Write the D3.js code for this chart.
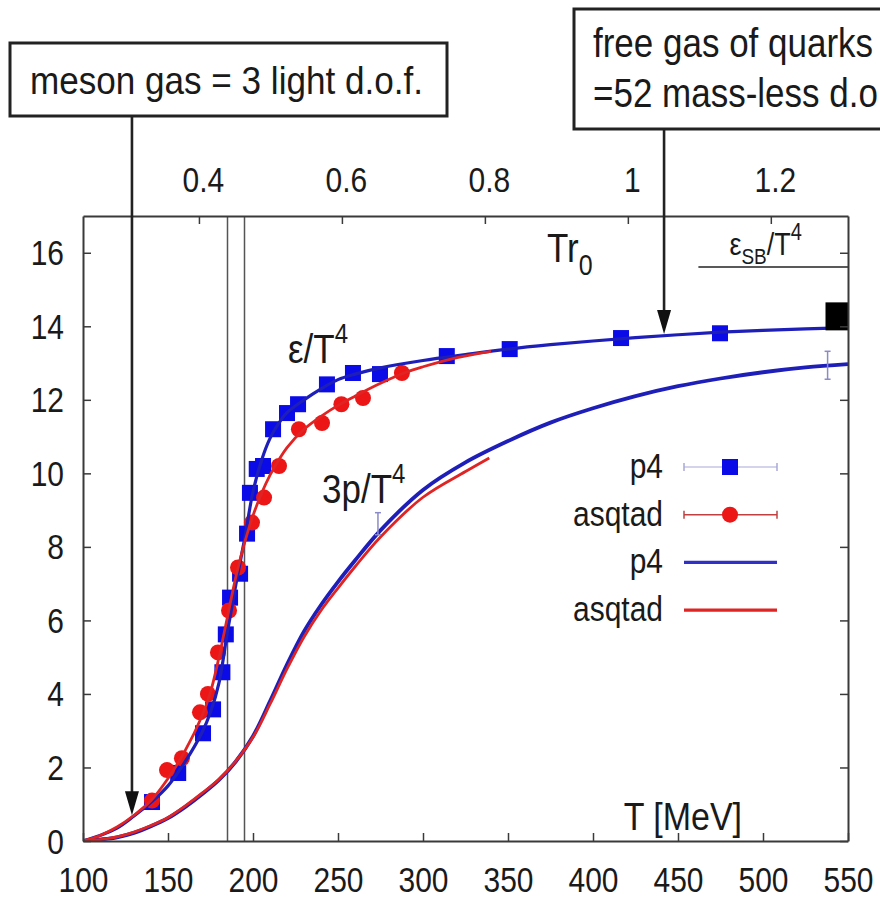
<!DOCTYPE html>
<html>
<head>
<meta charset="utf-8">
<script src="https://cdn.jsdelivr.net/npm/d3@7"></script>
<style>
  body { margin: 0; background: #fff; }
  svg { display: block; }
  text { font-family: "Liberation Sans", Arial, Helvetica, sans-serif; fill: #1a1a1a; }
</style>
</head>
<body>
<svg id="chart" width="880" height="901"></svg>
<script>
// ---- axes ----
const tDomain = [100, 550];          // T [MeV]
const yDomain = [0, 17];
const r0 = 1 / 420.5;                // Tr0 = 1 at T = 420.5 MeV
const bottomTicks = [100, 150, 200, 250, 300, 350, 400, 450, 500, 550];
const topTicks = [0.4, 0.6, 0.8, 1, 1.2];
const yTicks = [0, 2, 4, 6, 8, 10, 12, 14, 16];

// ---- lattice data points: energy density eps/T^4 ----
const p4PointT = [140.6, 156, 170.6, 176.5, 182, 184, 186.5, 192.4, 196.5, 198.2, 202.2, 205.9, 211.8, 220, 226.5, 243.5, 258.8, 274.7, 314, 351, 416.5, 474.7];
const p4PointV = [1.06, 1.85, 2.93, 3.58, 4.59, 5.62, 6.62, 7.27, 8.36, 9.47, 10.12, 10.2, 11.2, 11.64, 11.88, 12.42, 12.73, 12.70, 13.19, 13.38, 13.68, 13.81];
const asqPointT = [140.6, 149.4, 158.2, 168.8, 173.5, 179.4, 185.9, 191.2, 199.4, 206.5, 215.3, 227, 240.6, 252, 264.7, 287.6];
const asqPointV = [1.1, 1.93, 2.25, 3.5, 4.0, 5.13, 6.27, 7.44, 8.66, 9.34, 10.2, 11.2, 11.37, 11.88, 12.05, 12.73];

// ---- interpolating curves ----
const p4EpsT = [100, 110, 120, 130, 140, 150, 160, 170, 175, 180, 185, 190, 195, 200, 205, 210, 215, 220, 230, 240, 250, 260, 275, 300, 325, 350, 375, 400, 425, 450, 475, 500, 525, 550];
const p4EpsV = [0, 0.15, 0.35, 0.68, 1.05, 1.5, 2.15, 2.95, 3.5, 4.3, 5.7, 7.0, 8.2, 9.5, 10.35, 10.95, 11.35, 11.65, 12.0, 12.3, 12.55, 12.7, 12.87, 13.07, 13.23, 13.38, 13.5, 13.6, 13.69, 13.77, 13.84, 13.89, 13.93, 13.96];
const asqEpsT = [100, 110, 120, 130, 140, 150, 160, 170, 175, 180, 185, 190, 195, 200, 205, 210, 215, 220, 230, 240, 250, 260, 275, 290, 300, 320, 340];
const asqEpsV = [0, 0.15, 0.38, 0.7, 1.1, 1.7, 2.45, 3.4, 4.05, 5.0, 6.1, 7.2, 8.1, 8.85, 9.45, 9.95, 10.35, 10.7, 11.2, 11.55, 11.85, 12.1, 12.45, 12.75, 12.9, 13.15, 13.32];
const p4PresT = [100, 110, 120, 130, 140, 150, 160, 170, 180, 190, 200, 210, 220, 230, 240, 250, 260, 275, 300, 325, 350, 375, 400, 425, 450, 475, 500, 525, 550];
const p4PresV = [0, 0.04, 0.1, 0.22, 0.4, 0.62, 0.92, 1.27, 1.66, 2.17, 2.85, 3.8, 4.8, 5.7, 6.42, 7.05, 7.63, 8.45, 9.55, 10.3, 10.88, 11.38, 11.77, 12.1, 12.37, 12.58, 12.75, 12.88, 12.97];
const asqPresT = [100, 110, 120, 130, 140, 150, 160, 170, 180, 190, 200, 210, 220, 230, 240, 250, 260, 275, 300, 325, 339];
const asqPresV = [0, 0.04, 0.11, 0.24, 0.42, 0.64, 0.95, 1.3, 1.68, 2.18, 2.82, 3.72, 4.68, 5.55, 6.27, 6.88, 7.46, 8.27, 9.35, 10.05, 10.42];

// ---- reference marks ----
const tcLines = [185, 195];                 // transition band
const sbLimit = 15.61, sbFrom = 462;        // Stefan-Boltzmann limit of eps/T^4
const blackMark = { T: 545, v: 14.27 };
const errBars = [ { T: 273.5, v: 8.63, e: 0.3 }, { T: 538, v: 12.94, e: 0.38 } ];
const legendLabels = ["p4", "asqtad", "p4", "asqtad"];
const arrowLow = { T: 128.8, v: 0.7 };
const arrowHigh = { T: 441.8, v: 13.79 };

// ---- colours ----
const BLUE_PT = "#0b0be8", RED_PT = "#ec1616";
const BLUE_LN = "#1e1eb8", RED_LN = "#e02424";
const AXIS = "#3a3a3a";
const SY = 1.15;   // tall glyph proportion

const svg = d3.select("#chart");
const M = { left: 83, top: 216, right: 32, bottom: 60 };
const W = 880 - M.left - M.right, H = 901 - M.top - M.bottom;

const x = d3.scaleLinear().domain(tDomain).range([M.left, M.left + W]);
const y = d3.scaleLinear().domain(yDomain).range([M.top + H, M.top]);
const xTop = d3.scaleLinear().domain(tDomain.map(t => t * r0)).range([M.left, M.left + W]);

function label(parent, px, py, size, anchor) {
  return parent.append("text")
    .attr("transform", `translate(${px},${py}) scale(1,${SY})`)
    .attr("font-size", size)
    .attr("text-anchor", anchor || "start");
}

svg.append("defs").append("clipPath").attr("id", "plot")
  .append("rect").attr("x", M.left).attr("y", M.top).attr("width", W).attr("height", H);

// vertical transition lines
svg.append("g").selectAll("line").data(tcLines).join("line")
  .attr("x1", d => x(d)).attr("x2", d => x(d))
  .attr("y1", y(yDomain[0])).attr("y2", y(yDomain[1]))
  .attr("stroke", "#555").attr("stroke-width", 1.5);

// SB limit
svg.append("line")
  .attr("x1", x(sbFrom)).attr("x2", x(tDomain[1]))
  .attr("y1", y(sbLimit)).attr("y2", y(sbLimit))
  .attr("stroke", "#222").attr("stroke-width", 1.5);
{
  const t = label(svg, x(sbFrom) + 31, y(sbLimit) - 12, 27);
  t.append("tspan").text("ε");
  t.append("tspan").attr("font-size", 19).attr("dy", 8).text("SB");
  t.append("tspan").attr("dy", -8).text("/T");
  t.append("tspan").attr("font-size", 20).attr("dy", -13).text("4");
}

const plot = svg.append("g").attr("clip-path", "url(#plot)");
const zip = (a, b) => a.map((t, i) => [t, b[i]]);

// data points: p4 squares, asqtad circles
plot.append("g").selectAll("rect").data(zip(p4PointT, p4PointV)).join("rect")
  .attr("x", d => x(d[0]) - 8).attr("y", d => y(d[1]) - 8)
  .attr("width", 16).attr("height", 16).attr("fill", BLUE_PT);
plot.append("g").selectAll("circle").data(zip(asqPointT, asqPointV)).join("circle")
  .attr("cx", d => x(d[0])).attr("cy", d => y(d[1])).attr("r", 8).attr("fill", RED_PT);

const line = d3.line().x(d => x(d[0])).y(d => y(d[1])).curve(d3.curveCatmullRom.alpha(0.5));
const curves = [
  { T: p4EpsT, V: p4EpsV, c: BLUE_LN, w: 3.2 },
  { T: p4PresT, V: p4PresV, c: BLUE_LN, w: 3.8 },
  { T: asqEpsT, V: asqEpsV, c: RED_LN, w: 2.8 },
  { T: asqPresT, V: asqPresV, c: RED_LN, w: 2.8 },
];
plot.append("g").selectAll("path").data(curves).join("path")
  .attr("d", d => line(zip(d.T, d.V)))
  .attr("fill", "none").attr("stroke", d => d.c).attr("stroke-width", d => d.w)
  .attr("stroke-linejoin", "round");

// error bars
const eb = plot.append("g").attr("stroke", "#8a8ac8").attr("stroke-width", 1.5);
errBars.forEach(b => {
  eb.append("line").attr("x1", x(b.T)).attr("x2", x(b.T)).attr("y1", y(b.v - b.e)).attr("y2", y(b.v + b.e));
  [b.v - b.e, b.v + b.e].forEach(v =>
    eb.append("line").attr("x1", x(b.T) - 3).attr("x2", x(b.T) + 3).attr("y1", y(v)).attr("y2", y(v)));
});

// black marker at the right edge
plot.append("rect")
  .attr("x", x(blackMark.T) - 14).attr("y", y(blackMark.v) - 14)
  .attr("width", 28).attr("height", 28).attr("fill", "#000");

// axes with inward ticks
function styleAxis(g) {
  g.select(".domain").attr("stroke", AXIS).attr("stroke-width", 2);
  g.selectAll(".tick line").attr("stroke", AXIS).attr("stroke-width", 1.5);
}
const gB = svg.append("g").attr("transform", `translate(0,${M.top + H})`)
  .call(d3.axisBottom(x).tickValues(bottomTicks).tickSize(-8).tickSizeOuter(0).tickFormat(d3.format("d")));
const gT = svg.append("g").attr("transform", `translate(0,${M.top})`)
  .call(d3.axisTop(xTop).tickValues(topTicks).tickSize(-8).tickSizeOuter(0).tickFormat(d => d3.format("")(d)));
const gL = svg.append("g").attr("transform", `translate(${M.left},0)`)
  .call(d3.axisLeft(y).tickValues(yTicks).tickSize(-8).tickSizeOuter(0));
const gR = svg.append("g").attr("transform", `translate(${M.left + W},0)`)
  .call(d3.axisRight(y).tickValues(yTicks).tickSize(-8).tickSizeOuter(0).tickFormat(""));
[gB, gT, gL, gR].forEach(styleAxis);

gB.selectAll(".tick text").attr("y", null).attr("dy", null).attr("font-size", 30)
  .attr("transform", `translate(0,51) scale(1,${SY})`).attr("fill", "#1a1a1a");
gT.selectAll(".tick text").attr("y", null).attr("dy", null).attr("font-size", 30)
  .attr("transform", `translate(4,-24) scale(1,${SY})`).attr("fill", "#1a1a1a");
gL.selectAll(".tick text").attr("x", null).attr("dy", null).attr("font-size", 30)
  .attr("text-anchor", "end")
  .attr("transform", `translate(-19,12) scale(1,${SY})`).attr("fill", "#1a1a1a");
svg.selectAll(".tick text").attr("font-family", null);

// curve labels
{
  const t = label(svg, 288, 363, 35);
  t.append("tspan").text("ε/T");
  t.append("tspan").attr("font-size", 24).attr("dy", -17).text("4");
}
{
  const t = label(svg, 322, 503, 35);
  t.append("tspan").text("3p/T");
  t.append("tspan").attr("font-size", 24).attr("dy", -17).text("4");
}
{
  const t = label(svg, 547, 262, 35);
  t.append("tspan").text("Tr");
  t.append("tspan").attr("font-size", 25).attr("dy", 11).text("0");
}
label(svg, 742, 830, 34, "end").text("T [MeV]");

// legend
const lg = svg.append("g");
const rowY = i => 467 + i * 47.7;
legendLabels.forEach((s, i) => label(lg, 663, rowY(i) + 11, 30, "end").text(s));
const lx0 = 684, lx1 = 777, lxm = 730;
[0, 1].forEach(i => {
  const c = i === 0 ? "#a8a8d8" : "#c04040";
  lg.append("line").attr("x1", lx0).attr("x2", lx1).attr("y1", rowY(i)).attr("y2", rowY(i))
    .attr("stroke", c).attr("stroke-width", i === 0 ? 1.2 : 1.6);
  [lx0, lx1].forEach(xx => lg.append("line").attr("x1", xx).attr("x2", xx)
    .attr("y1", rowY(i) - 4).attr("y2", rowY(i) + 4).attr("stroke", c).attr("stroke-width", 1.5));
});
lg.append("rect").attr("x", lxm - 8).attr("y", rowY(0) - 8).attr("width", 16).attr("height", 16).attr("fill", BLUE_PT);
lg.append("circle").attr("cx", lxm).attr("cy", rowY(1)).attr("r", 8).attr("fill", RED_PT);
lg.append("line").attr("x1", lx0).attr("x2", lx1).attr("y1", rowY(2)).attr("y2", rowY(2))
  .attr("stroke", "#3030c8").attr("stroke-width", 3.2);
lg.append("line").attr("x1", lx0).attr("x2", lx1).attr("y1", rowY(3)).attr("y2", rowY(3))
  .attr("stroke", RED_LN).attr("stroke-width", 3.2);

// annotation boxes with arrows
function arrow(px, y0, y1) {
  svg.append("line").attr("x1", px).attr("x2", px).attr("y1", y0).attr("y2", y1 - 20)
    .attr("stroke", "#222").attr("stroke-width", 2.6);
  svg.append("path")
    .attr("d", `M${px - 7},${y1 - 24} L${px + 7},${y1 - 24} L${px},${y1} Z`)
    .attr("fill", "#111");
}
svg.append("rect").attr("x", 10).attr("y", 43).attr("width", 437).attr("height", 73)
  .attr("fill", "#fff").attr("stroke", "#222").attr("stroke-width", 3);
label(svg, 30, 94, 33).attr("textLength", 393).attr("lengthAdjust", "spacingAndGlyphs")
  .text("meson gas = 3 light d.o.f.");
arrow(x(arrowLow.T), 116, y(arrowLow.v));

svg.append("rect").attr("x", 574).attr("y", 9).attr("width", 330).attr("height", 120)
  .attr("fill", "#fff").attr("stroke", "#222").attr("stroke-width", 3);
label(svg, 593, 57, 35).text("free gas of quarks");
label(svg, 593, 107, 35).text("=52 mass-less d.o.f.");
arrow(x(arrowHigh.T), 129, y(arrowHigh.v));
</script>
</body>
</html>
